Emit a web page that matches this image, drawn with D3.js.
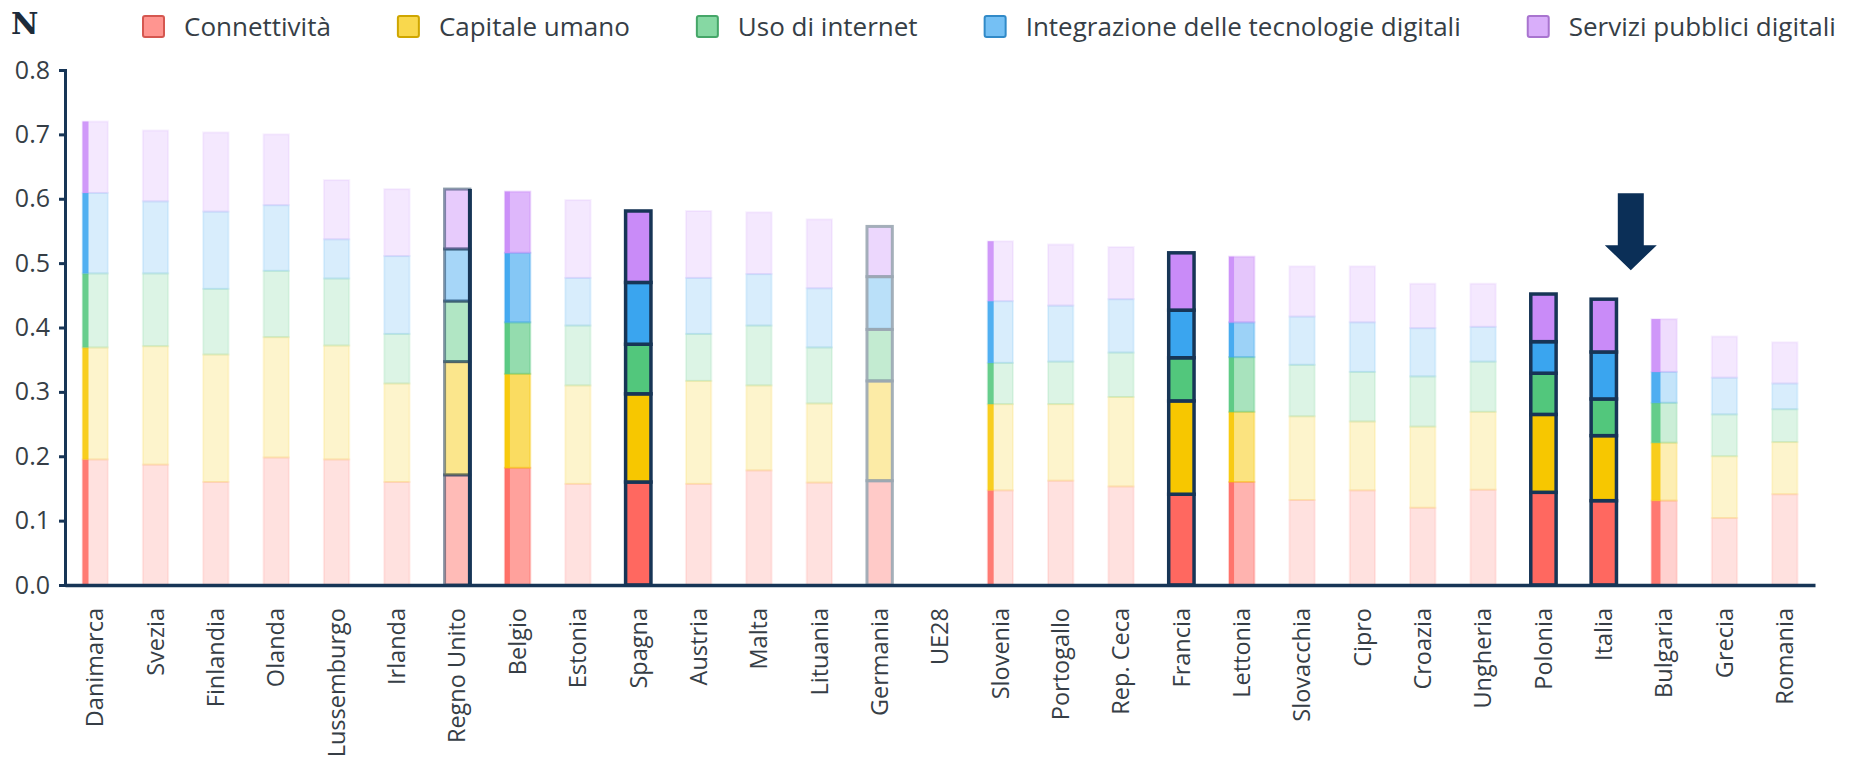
<!DOCTYPE html>
<html>
<head>
<meta charset="utf-8">
<script src="https://cdn.jsdelivr.net/npm/d3@7"></script>
<style>
  body { margin: 0; background: #fff; }
  text { font-family: "Open Sans", sans-serif; fill: #363e46; }
</style>
</head>
<body>
<div id="chart"></div>
<script>
// DESI scores per country, five dimensions
const countries = ['Danimarca', 'Svezia', 'Finlandia', 'Olanda', 'Lussemburgo', 'Irlanda',
  'Regno Unito', 'Belgio', 'Estonia', 'Spagna', 'Austria', 'Malta', 'Lituania', 'Germania',
  'UE28', 'Slovenia', 'Portogallo', 'Rep. Ceca', 'Francia', 'Lettonia', 'Slovacchia', 'Cipro',
  'Croazia', 'Ungheria', 'Polonia', 'Italia', 'Bulgaria', 'Grecia', 'Romania'];

const connettivita = [0.195, 0.187, 0.160, 0.198, 0.195, 0.160, 0.171, 0.182, 0.157, 0.160,
  0.157, 0.178, 0.159, 0.162, 0, 0.147, 0.162, 0.153, 0.141, 0.160, 0.132, 0.147, 0.120,
  0.148, 0.144, 0.131, 0.131, 0.104, 0.141];
const capitaleUmano = [0.174, 0.184, 0.198, 0.187, 0.177, 0.153, 0.176, 0.146, 0.153, 0.137,
  0.160, 0.132, 0.123, 0.155, 0, 0.134, 0.119, 0.139, 0.145, 0.109, 0.130, 0.107, 0.126,
  0.121, 0.121, 0.101, 0.090, 0.096, 0.081];
const usoInternet = [0.115, 0.113, 0.102, 0.103, 0.104, 0.077, 0.094, 0.080, 0.093, 0.077,
  0.073, 0.093, 0.087, 0.080, 0, 0.064, 0.066, 0.069, 0.067, 0.085, 0.080, 0.077, 0.078,
  0.078, 0.064, 0.057, 0.062, 0.065, 0.051];
const integrazione = [0.125, 0.112, 0.120, 0.102, 0.061, 0.121, 0.081, 0.108, 0.074, 0.096,
  0.087, 0.080, 0.092, 0.082, 0, 0.096, 0.087, 0.083, 0.074, 0.054, 0.075, 0.077, 0.075,
  0.054, 0.049, 0.073, 0.048, 0.057, 0.040];
const serviziPubblici = [0.111, 0.110, 0.123, 0.110, 0.092, 0.104, 0.093, 0.095, 0.121, 0.111,
  0.104, 0.096, 0.107, 0.078, 0, 0.093, 0.095, 0.081, 0.089, 0.102, 0.078, 0.087, 0.069,
  0.067, 0.074, 0.082, 0.082, 0.064, 0.064];

const seriesNames = ['Connettività', 'Capitale umano', 'Uso di internet',
  'Integrazione delle tecnologie digitali', 'Servizi pubblici digitali'];
const yTicks = [0, 0.1, 0.2, 0.3, 0.4, 0.5, 0.6, 0.7, 0.8];

const colors = ['#ff6860', '#f7c700', '#52c77c', '#3aa5ef', '#c98bf8'];
const navy = '#173556';

// highlighted bars and the in-between states of the hover transition
const focus = ['Spagna', 'Francia', 'Polonia', 'Italia'];
const partial = {
  'Regno Unito': { op: 0.45, stroke: navy, sop: 0.5 },
  'Belgio': { op: 0.62 },
  'Lettonia': { op: 0.5 },
  'Germania': { op: 0.35, stroke: '#9ba7b3', sop: 0.9 },
  'Bulgaria': { op: 0.3 },
};
const leftStrip = { 'Danimarca': 6, 'Slovenia': 6, 'Bulgaria': 9, 'Belgio': 5, 'Lettonia': 5 };
const arrowAt = 'Italia';

const width = 1851,
  height = 765;
const margin = { top: 70, left: 65, right: 36, bottom: 180 };

const rows = countries.map((c, i) => ({
  country: c,
  v0: connettivita[i],
  v1: capitaleUmano[i],
  v2: usoInternet[i],
  v3: integrazione[i],
  v4: serviziPubblici[i],
}));
const stack = d3.stack().keys(['v0', 'v1', 'v2', 'v3', 'v4']);
const layers = stack(rows);

const x = d3
  .scaleBand()
  .domain(countries)
  .range([margin.left, width - margin.right])
  .paddingInner(0.58)
  .paddingOuter(0.29);

const y = d3
  .scaleLinear()
  .domain([0, 0.8])
  .range([height - margin.bottom, margin.top]);

const svg = d3
  .select('#chart')
  .append('svg')
  .attr('width', width)
  .attr('height', height);

// logo corner (cropped in the original)
svg
  .append('text')
  .attr('x', 11)
  .attr('y', 34)
  .style('font-family', 'DejaVu Serif')
  .style('font-weight', 'bold')
  .style('font-size', '30px')
  .style('fill', '#1d2b3a')
  .text('N');

// legend
const legend = svg.append('g');
let lx = 143;
seriesNames.forEach((name, i) => {
  const item = legend.append('g');
  item
    .append('rect')
    .attr('x', lx)
    .attr('y', 16)
    .attr('width', 21)
    .attr('height', 21)
    .attr('rx', 2)
    .attr('fill', d3.interpolateRgb(colors[i], '#fff')(0.3))
    .attr('stroke', d3.color(colors[i]).darker(0.5))
    .attr('stroke-width', 2);
  const t = item
    .append('text')
    .attr('x', lx + 41)
    .attr('y', 36)
    .style('font-size', '26px')
    .text(name);
  lx += 41 + t.node().getComputedTextLength() + 67;
});

// bars
const bars = svg.append('g');
layers.forEach((layer, k) => {
  layer.forEach(d => {
    const c = d.data.country;
    if (d[1] - d[0] <= 0) return;
    const isFocus = focus.includes(c);
    const p = partial[c] || {};
    const op = isFocus ? 1 : p.op || 0.2;
    const r = bars
      .append('rect')
      .attr('x', x(c))
      .attr('y', y(d[1]))
      .attr('width', x.bandwidth())
      .attr('height', y(d[0]) - y(d[1]))
      .attr('fill', colors[k])
      .attr('fill-opacity', op);
    if (isFocus) {
      r.attr('stroke', navy).attr('stroke-width', 3.5);
    } else if (p.stroke) {
      r.attr('stroke', p.stroke).attr('stroke-width', 3).attr('stroke-opacity', p.sop);
    } else {
      r.attr('stroke', colors[k]).attr('stroke-width', 2).attr('stroke-opacity', op * 0.6);
    }
    if (leftStrip[c]) {
      bars
        .append('rect')
        .attr('x', x(c))
        .attr('y', y(d[1]))
        .attr('width', leftStrip[c])
        .attr('height', y(d[0]) - y(d[1]))
        .attr('fill', colors[k])
        .attr('fill-opacity', 0.85);
    }
  });
});

// the right edge of Regno Unito was caught mid-transition
const uk = rows.find(r => r.country === 'Regno Unito');
bars
  .append('line')
  .attr('x1', x('Regno Unito') + x.bandwidth())
  .attr('x2', x('Regno Unito') + x.bandwidth())
  .attr('y1', y(uk.v0 + uk.v1 + uk.v2 + uk.v3 + uk.v4))
  .attr('y2', y(0))
  .attr('stroke', navy)
  .attr('stroke-width', 4);

// axes
const yAxis = svg
  .append('g')
  .attr('transform', 'translate(' + margin.left + ',0)')
  .call(
    d3
      .axisLeft(y)
      .tickValues(yTicks)
      .tickFormat(d3.format('.1f'))
      .tickSize(6)
      .tickPadding(9)
  );
yAxis.selectAll('path, line').attr('stroke', navy).attr('stroke-width', 3);
yAxis.selectAll('text').style('font-size', '25px').style('fill', '#363e46');

const xAxis = svg
  .append('g')
  .attr('transform', 'translate(0,' + y(0) + ')')
  .call(d3.axisBottom(x).tickSize(0).tickSizeOuter(0));
xAxis.select('.domain').attr('stroke', navy).attr('stroke-width', 3.5);
xAxis
  .selectAll('text')
  .attr('transform', 'rotate(-90)')
  .attr('x', -23)
  .attr('y', 0)
  .attr('dy', '0.35em')
  .attr('text-anchor', 'end')
  .style('font-size', '23.5px')
  .style('fill', '#363e46');

// arrow pointing at Italia
const it = rows.find(r => r.country === arrowAt);
const ax = x(arrowAt) + x.bandwidth() / 2 + 27;
const tip = y(it.v0 + it.v1 + it.v2 + it.v3 + it.v4) - 29;
svg
  .append('path')
  .attr(
    'd',
    'M' + (ax - 13) + ',' + (tip - 77) +
      'H' + (ax + 13) +
      'V' + (tip - 25) +
      'H' + (ax + 26) +
      'L' + ax + ',' + tip +
      'L' + (ax - 26) + ',' + (tip - 25) +
      'H' + (ax - 13) + 'Z'
  )
  .attr('fill', '#0b2f57');
</script>
</body>
</html>
